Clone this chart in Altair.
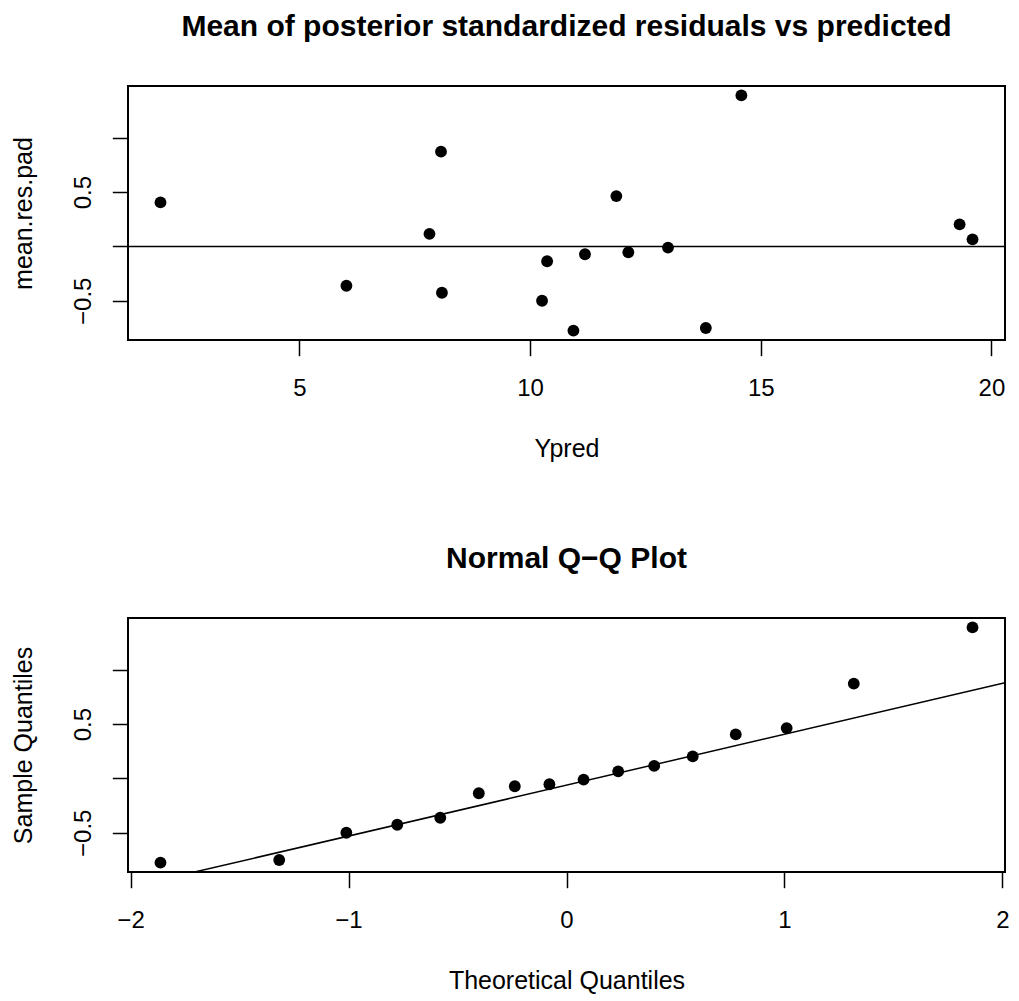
import altair as alt
import pandas as pd
import numpy as np

# ---- data ----
ypred = [1.99, 6.02, 7.82, 8.07, 8.09, 10.26, 10.37, 10.94, 11.19, 11.87,
         12.13, 12.99, 13.81, 14.58, 19.31, 19.59]
mean_res_pad = [0.405, -0.362, 0.115, 0.872, -0.427, -0.500, -0.137, -0.775,
                -0.072, 0.463, -0.054, -0.011, -0.751, 1.390, 0.203, 0.065]
theoretical_q = [-1.8627, -1.3180, -1.0100, -0.7764, -0.5791, -0.4023, -0.2372, -0.0784,
                 0.0784, 0.2372, 0.4023, 0.5791, 0.7764, 1.0100, 1.3180, 1.8627]
top_x_ticks = [5, 10, 15, 20]
qq_x_ticks = [-2, -1, 0, 1, 2]
y_ticks = [-0.5, 0.0, 0.5, 1.0]

title_top = "Mean of posterior standardized residuals vs predicted"
title_qq = "Normal Q\u2212Q Plot"

FONT = "Liberation Sans"
W, H = 877, 254


def rpad(vals):
    lo, hi = min(vals), max(vals)
    d = (hi - lo) * 0.04
    return [lo - d, hi + d]


sample_q = sorted(mean_res_pad)
x_dom_top = rpad(ypred)
y_dom = rpad(mean_res_pad)
x_dom_qq = rpad(theoretical_q)

df_top = pd.DataFrame({"Ypred": ypred, "res": mean_res_pad})
df_qq = pd.DataFrame({"theo": theoretical_q, "samp": sample_q})

q1, q3 = np.quantile(mean_res_pad, [0.25, 0.75])
z = 0.6744897501960817
slope = (q3 - q1) / (2 * z)
intercept = q1 + slope * z
line_df = pd.DataFrame({"theo": x_dom_qq, "samp": [intercept + slope * v for v in x_dom_qq]})
zero_df = pd.DataFrame({"y": [0.0]})


def x_axis(values, title, fmt=None):
    kw = {}
    if fmt:
        kw["format"] = fmt
    return alt.Axis(values=values, title=title, grid=False, domain=False,
                    ticks=True, tickSize=15.7, tickWidth=1.5, tickColor="black",
                    labelFont=FONT, labelFontSize=24, labelColor="black",
                    labelBaseline="alphabetic", labelPadding=39.5,
                    labelFlush=False, labelOverlap=False, labelAlign="center",
                    titleFont=FONT, titleFontSize=25, titleFontWeight="normal",
                    titleColor="black", titleBaseline="alphabetic",
                    titleY=116, titleX=W / 2, titleAlign="center", **kw)


def y_axis(title):
    return alt.Axis(values=y_ticks, title=title, grid=False, domain=False,
                    ticks=True, tickSize=15.7, tickWidth=1.5, tickColor="black",
                    labelExpr="datum.value == 0.5 ? '0.5' : (datum.value == -0.5 ? '\u22120.5' : '')",
                    labelFont=FONT, labelFontSize=24, labelColor="black",
                    labelAngle=270, labelAlign="center", labelBaseline="alphabetic",
                    labelPadding=21.7, labelFlush=False, labelOverlap=False,
                    titleFont=FONT, titleFontSize=25, titleFontWeight="normal",
                    titleColor="black", titleAngle=270, titleBaseline="alphabetic",
                    titleAlign="center", titleX=-96.5, titleY=H / 2)


def title_mark(text):
    return alt.Chart(pd.DataFrame({"t": [text]})).mark_text(
        font=FONT, fontSize=30, fontWeight="bold", color="black",
        align="center", baseline="alphabetic"
    ).encode(x=alt.value(W / 2), y=alt.value(-50), text="t:N")


ys_top = alt.Scale(domain=y_dom, nice=False, zero=False)
xs_top = alt.Scale(domain=x_dom_top, nice=False, zero=False)

pts_top = alt.Chart(df_top).mark_circle(size=140, color="black", opacity=1).encode(
    x=alt.X("Ypred:Q", scale=xs_top, axis=x_axis(top_x_ticks, "Ypred")),
    y=alt.Y("res:Q", scale=ys_top, axis=y_axis("mean.res.pad")),
)
rule0 = alt.Chart(zero_df).mark_rule(color="black", strokeWidth=1.5).encode(
    y=alt.Y("y:Q", scale=ys_top)
)
top = alt.layer(pts_top, rule0, title_mark(title_top)).properties(width=W, height=H)

ys_qq = alt.Scale(domain=y_dom, nice=False, zero=False)
xs_qq = alt.Scale(domain=x_dom_qq, nice=False, zero=False)

pts_qq = alt.Chart(df_qq).mark_circle(size=140, color="black", opacity=1).encode(
    x=alt.X("theo:Q", scale=xs_qq, axis=x_axis(qq_x_ticks, "Theoretical Quantiles", "d")),
    y=alt.Y("samp:Q", scale=ys_qq, axis=y_axis("Sample Quantiles")),
)
qq_line = alt.Chart(line_df).mark_line(color="black", strokeWidth=1.5, clip=True).encode(
    x=alt.X("theo:Q", scale=xs_qq),
    y=alt.Y("samp:Q", scale=ys_qq),
)
bottom = alt.layer(pts_qq, qq_line, title_mark(title_qq)).properties(width=W, height=H)

chart = alt.vconcat(top, bottom, spacing=278, bounds="flush").properties(
    padding={"left": 2, "top": 3, "right": 0, "bottom": 0},
    background="white",
).configure_view(stroke="black", strokeWidth=2)

chart.save("out.html", embed_options={"renderer": "svg", "actions": False})
